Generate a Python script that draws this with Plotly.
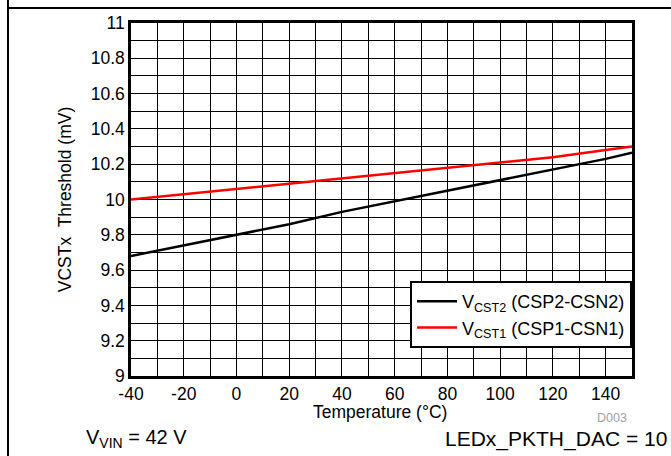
import plotly.graph_objects as go

temps = [-40, -20, 0, 20, 40, 60, 80, 100, 120, 140, 150]
vcst2 = [9.68, 9.74, 9.80, 9.86, 9.93, 9.99, 10.05, 10.11, 10.17, 10.23, 10.265]
vcst1 = [10.00, 10.03, 10.06, 10.09, 10.12, 10.15, 10.18, 10.21, 10.24, 10.28, 10.30]

x_ticks = [-40, -20, 0, 20, 40, 60, 80, 100, 120, 140]
y_ticks = [9, 9.2, 9.4, 9.6, 9.8, 10, 10.2, 10.4, 10.6, 10.8, 11]
y_labels = ["9", "9.2", "9.4", "9.6", "9.8", "10", "10.2", "10.4", "10.6", "10.8", "11"]

FONT = "Liberation Sans, Arial, sans-serif"

# plot area in page pixels: x 131..632, y 23..376
L, R, T, B = 131, 39, 23, 80
W, H = 671, 456
PW, PH = W - L - R, H - T - B


def px(xp):
    return (xp - L) / PW


def py(yp):
    return (H - B - yp) / PH


fig = go.Figure()
fig.add_trace(go.Scatter(x=temps, y=vcst2, mode="lines", name="V<sub>CST2</sub> (CSP2-CSN2)",
                         line=dict(color="black", width=2.5)))
fig.add_trace(go.Scatter(x=temps, y=vcst1, mode="lines", name="V<sub>CST1</sub> (CSP1-CSN1)",
                         line=dict(color="#ff0000", width=2.5)))

fig.update_layout(
    width=W, height=H,
    margin=dict(l=L, r=R, t=T, b=B),
    paper_bgcolor="white", plot_bgcolor="white",
    font=dict(family=FONT, size=17, color="black"),
    showlegend=True,
    legend=dict(x=1, xanchor="right", y=py(281), yanchor="top",
                bordercolor="black", borderwidth=2, bgcolor="white",
                font=dict(size=18), tracegroupgap=0, itemwidth=40),
    xaxis=dict(range=[-40, 150], showgrid=True, gridcolor="black", gridwidth=1,
               tickmode="array", tickvals=x_ticks, ticktext=[str(v) for v in x_ticks],
               showline=True, linecolor="black", linewidth=2.5, mirror=True,
               ticks="", zeroline=False, tickfont=dict(size=17.5)),
    yaxis=dict(range=[9, 11], tickmode="array", tickvals=y_ticks, ticktext=y_labels,
               showgrid=True, gridcolor="black", gridwidth=1,
               showline=True, linecolor="black", linewidth=2.5, mirror=True,
               ticks="", zeroline=False, tickfont=dict(size=17.5),
               title=dict(text="VCSTx  Threshold (mV)", font=dict(size=17.5), standoff=15)),
)

# minor gridlines
fig.update_xaxes(minor=dict(dtick=10, tick0=-40, showgrid=True, gridcolor="black", gridwidth=1))
fig.update_yaxes(minor=dict(dtick=0.1, tick0=9, showgrid=True, gridcolor="black", gridwidth=1))

# frame lines of the figure
fig.add_shape(type="line", xref="paper", yref="paper", x0=px(8), x1=px(8), y0=py(460), y1=py(-5),
              line=dict(color="black", width=2))
fig.add_shape(type="line", xref="paper", yref="paper", x0=px(8), x1=px(680), y0=py(8), y1=py(8),
              line=dict(color="black", width=2))

fig.add_annotation(xref="paper", yref="paper", x=px(380), y=py(412), xanchor="center", yanchor="middle",
                   text="Temperature (°C)", showarrow=False, font=dict(size=17.5))
fig.add_annotation(xref="paper", yref="paper", x=px(629), y=py(418), xanchor="right", yanchor="middle",
                   text="D003", showarrow=False, font=dict(size=12.5, color="#a0a0a0"))
fig.add_annotation(xref="paper", yref="paper", x=px(84), y=py(438), xanchor="left", yanchor="middle",
                   text="V<sub>VIN</sub> = 42 V", showarrow=False, font=dict(size=20))
fig.add_annotation(xref="paper", yref="paper", x=px(669), y=py(439), xanchor="right", yanchor="middle",
                   text="LEDx_PKTH_DAC = 10", showarrow=False, font=dict(size=21))

fig.write_html("out.html", config={"displayModeBar": False},
               post_script="document.body.style.margin='0';document.body.style.overflow='hidden';")
